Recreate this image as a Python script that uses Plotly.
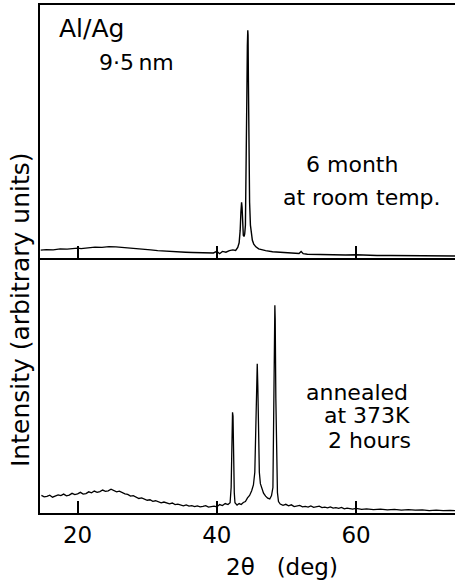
import plotly.graph_objects as go

# ---- data (2theta in deg, intensity in arbitrary units 0-100 per panel) ----
top_theta = [14.7, 15.5, 16.5, 17.5, 18.5, 19.5, 20.0, 20.5, 21.5, 22.5, 23.5, 24.5, 25.5,
             26.5, 27.5, 28.5, 29.5, 30.5, 31.5, 32.5, 33.5, 34.5, 35.5, 36.5, 37.5, 38.5,
             39.5, 40.0, 40.4, 40.8, 41.3, 41.8, 42.3, 42.7, 43.0, 43.2, 43.35, 43.45, 43.55,
             43.62, 43.7, 43.8, 43.9, 44.0, 44.1, 44.2, 44.3, 44.38, 44.44, 44.48, 44.53, 44.6,
             44.7, 44.82, 44.95, 45.1, 45.3, 45.6, 46.0, 46.5, 47.0, 48.0, 49.0, 50.0, 51.0,
             51.8, 52.1, 52.4, 53.0, 54.0, 55.5, 57.0, 58.5, 60.0, 61.5, 63.0, 65.0, 67.0,
             69.0, 71.0, 73.0, 74.2]
top_intensity = [3.1, 3.3, 3.2, 3.6, 3.5, 3.8, 3.9, 3.7, 4.0, 4.3, 4.2, 4.5, 4.4,
                 4.2, 4.0, 3.7, 3.4, 3.2, 2.9, 2.7, 2.5, 2.4, 2.3, 2.2, 2.2, 2.0,
                 2.0, 2.6, 1.7, 2.6, 2.3, 2.9, 3.2, 3.0, 4.2, 6.0, 11, 18, 22,
                 20, 13, 9, 8.5, 9.5, 13, 30, 62, 84, 90, 88, 70, 42,
                 22, 13, 9, 7, 5.5, 4.4, 3.6, 3.2, 2.9, 2.5, 2.3, 2.1, 1.9,
                 1.8, 2.6, 1.7, 1.5, 1.4, 1.3, 1.2, 1.2, 1.3, 1.1, 1.0, 1.0, 0.9,
                 0.9, 0.8, 0.8, 0.8]

bot_theta = [14.8, 15.2, 15.6, 16.0, 16.4, 16.8, 17.2, 17.6, 18.0, 18.4, 18.8, 19.2, 19.6,
             20.0, 20.4, 20.8, 21.2, 21.6, 22.0, 22.4, 22.8, 23.2, 23.6, 24.0, 24.4, 24.8,
             25.2, 25.6, 26.0, 26.4, 26.8, 27.2, 27.6, 28.0, 28.4, 28.8, 29.2, 29.6, 30.0,
             30.4, 30.8, 31.2, 31.6, 32.0, 32.4, 32.8, 33.2, 33.6, 34.0, 34.4, 34.8, 35.2,
             35.6, 36.0, 36.4, 36.8, 37.2, 37.6, 38.0, 38.4, 38.8, 39.2, 39.6, 40.0, 40.4,
             40.8, 41.2, 41.6, 41.9, 42.05, 42.15, 42.25, 42.32, 42.4, 42.5, 42.6, 42.9, 43.2,
             43.5, 43.8, 44.1, 44.4, 44.7, 45.0, 45.25, 45.45, 45.6, 45.72, 45.8, 45.88, 45.98,
             46.1, 46.25, 46.45, 46.7, 47.0, 47.3, 47.6, 47.85, 48.05, 48.18, 48.28, 48.33,
             48.38, 48.47, 48.58, 48.7, 48.85, 49.1, 49.5, 49.9, 50.3, 50.7, 51.1, 51.5, 51.9,
             52.3, 52.7, 53.1, 53.5, 53.9, 54.3, 54.7, 55.1, 55.5, 55.9, 56.3, 56.7, 57.1, 57.5,
             57.9, 58.3, 58.7, 59.1, 59.5, 60.0, 60.4, 60.8, 61.5, 62.5, 63.5, 64.5, 65.5,
             66.5, 67.5, 68.5, 69.5, 70.5, 71.5, 72.5, 73.5, 74.2]
bot_intensity = [6.9, 6.3, 6.5, 7.0, 6.2, 6.6, 7.1, 6.8, 7.4, 6.7, 7.0, 7.7, 7.2,
                 7.5, 8.1, 7.4, 7.6, 8.3, 7.9, 8.6, 8.1, 8.4, 9.0, 8.5, 8.7, 9.3,
                 8.8, 8.3, 8.6, 8.0, 7.5, 7.3, 6.6, 6.8, 6.2, 5.7, 5.9, 5.5, 5.0,
                 5.2, 4.6, 4.8, 4.4, 4.0, 4.3, 3.8, 3.6, 3.9, 3.3, 3.5, 3.1, 2.8,
                 3.2, 2.7, 2.9, 2.5, 2.8, 2.4, 2.6, 2.9, 2.3, 2.5, 2.7, 2.4, 3.3,
                 2.9, 3.7, 3.3, 4.0, 10, 30, 39.5, 38, 22, 8, 4.0, 3.1, 3.7,
                 3.3, 4.1, 4.5, 5.9, 6.9, 8.7, 11, 16, 35, 55, 58.5, 50, 30,
                 16, 11.5, 9.5, 7.8, 6.6, 5.8, 5.5, 6.8, 10, 40, 78, 81.5,
                 76, 45, 18, 8, 4.5, 3.5, 3.0, 3.4, 2.8, 3.2, 2.5, 2.7, 3.0,
                 2.4, 2.6, 2.3, 2.8, 2.2, 2.5, 2.7, 2.1, 2.3, 2.0, 2.4, 1.9, 2.1, 1.8,
                 2.2, 1.6, 1.9, 1.7, 1.5, 1.8, 1.6, 1.4, 1.6, 1.3, 1.5, 1.2, 1.4,
                 1.1, 1.3, 1.1, 1.2, 0.9, 1.1, 0.9, 1.0, 0.9]

x_ticks = [20, 40, 60]
x_tick_labels = ["20", "40", "60"]

# ---- figure ----
W, H = 455, 583
ML, MR, MT, MB = 40, 0, 5, 70
PW, PH = W - ML - MR, H - MT - MB
SPLIT = 258  # pixel row of the panel boundary


def px(x):
    return (x - ML) / PW


def py(y):
    return (H - MB - y) / PH


FONT = "DejaVu Sans"

fig = go.Figure()
fig.add_trace(go.Scatter(x=top_theta, y=top_intensity, mode="lines",
                         line=dict(color="black", width=1.4),
                         xaxis="x2", yaxis="y2", showlegend=False, hoverinfo="skip"))
fig.add_trace(go.Scatter(x=bot_theta, y=bot_intensity, mode="lines",
                         line=dict(color="black", width=1.3),
                         xaxis="x", yaxis="y", showlegend=False, hoverinfo="skip"))

split = py(SPLIT)
xrange = [14.6, 74.2]
common_x = dict(range=xrange, tickvals=x_ticks, ticktext=x_tick_labels,
                ticks="inside", ticklen=12, tickwidth=1.5, tickcolor="black",
                showline=True, linewidth=2, linecolor="black", showgrid=False,
                zeroline=False)
fig.update_layout(
    width=W, height=H,
    margin=dict(l=ML, r=MR, t=MT, b=MB),
    paper_bgcolor="white", plot_bgcolor="white",
    font=dict(family=FONT, size=22, color="black"),
    xaxis=dict(**common_x, anchor="y", domain=[0, 1],
               tickfont=dict(family=FONT, size=23, color="black")),
    yaxis=dict(domain=[0, split], range=[0, 100], showline=True, linewidth=2,
               linecolor="black", showticklabels=False, ticks="", showgrid=False,
               zeroline=False),
    xaxis2=dict(**common_x, anchor="y2", domain=[0, 1], mirror=True,
                showticklabels=False),
    yaxis2=dict(domain=[split, 1], range=[0, 100], showline=True, linewidth=2,
                linecolor="black", showticklabels=False, ticks="", showgrid=False,
                zeroline=False),
)

ann = [
    ("Al/Ag", 57, 28, "left", 25),
    ("9·5\u2009nm", 97, 62, "left", 22),
    ("6 month", 304, 164, "left", 22),
    ("at room temp.", 281, 197, "left", 22),
    ("annealed", 304, 392, "left", 22),
    ("at 373K", 322, 415, "left", 22),
    ("2 hours", 326, 440, "left", 22),
    ("2θ   (deg)", 282, 567, "center", 23),
]
for text, x, y, xa, size in ann:
    fig.add_annotation(text=text, x=px(x), y=py(y), xref="paper", yref="paper",
                       xanchor=xa, yanchor="middle", showarrow=False,
                       font=dict(family=FONT, size=size, color="black"))

fig.add_annotation(text="Intensity (arbitrary units)", x=px(20), y=py(310),
                   xref="paper", yref="paper", xanchor="center", yanchor="middle",
                   textangle=-90, showarrow=False,
                   font=dict(family=FONT, size=25, color="black"))

fig.write_html("out.html")
